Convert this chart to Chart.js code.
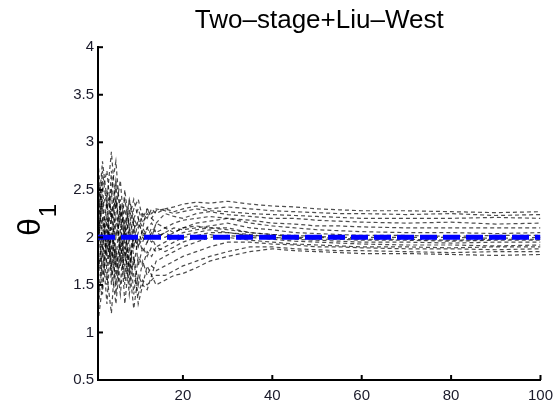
<!DOCTYPE html>
<html>
<head>
<meta charset="utf-8">
<script src="https://cdn.jsdelivr.net/npm/chart.js@4"></script>
<style>
  body { margin: 0; background: #fff; }
  #wrap { width: 560px; height: 406px; }
</style>
</head>
<body>
<div id="wrap"><canvas id="myChart" width="560" height="406"></canvas></div>
<script>
/* Data */
const titleText = 'Two\u2013stage+Liu\u2013West';
const xs = [1, 2, 3, 4, 5, 6, 7, 8, 9, 10, 11, 12, 13, 14, 16, 18, 20, 23, 26, 30, 35, 40, 45, 50, 55, 60, 70, 80, 90, 100];
const trueValue = 2;
const xTicks = [20, 40, 60, 80, 100];
const yTicks = [0.5, 1, 1.5, 2, 2.5, 3, 3.5, 4];

const run1 = [2.6, 2.3, 2.5, 2.2, 2.4, 2.1, 2.3, 2.0, 2.2, 2.1, 2.25, 2.2, 2.3, 2.25, 2.3, 2.32, 2.35, 2.37, 2.36, 2.38, 2.35, 2.33, 2.32, 2.30, 2.29, 2.28, 2.28, 2.27, 2.26, 2.27];
const run2 = [1.9, 2.5, 2.7, 2.2, 2.6, 2.3, 2.1, 2.4, 2.2, 2.3, 2.15, 2.25, 2.2, 2.28, 2.3, 2.27, 2.3, 2.33, 2.3, 2.32, 2.3, 2.28, 2.27, 2.26, 2.25, 2.25, 2.24, 2.25, 2.23, 2.24];
const run3 = [2.2, 2.8, 2.4, 2.9, 2.3, 2.6, 2.0, 2.2, 2.4, 2.2, 2.1, 2.3, 2.2, 2.15, 2.25, 2.22, 2.2, 2.25, 2.27, 2.24, 2.22, 2.2, 2.2, 2.18, 2.17, 2.16, 2.15, 2.16, 2.14, 2.15];
const run4 = [2.7, 2.0, 2.4, 1.7, 2.2, 1.9, 2.5, 2.1, 1.9, 2.2, 2.0, 2.1, 2.15, 2.05, 2.1, 2.15, 2.18, 2.2, 2.22, 2.2, 2.18, 2.15, 2.14, 2.12, 2.12, 2.11, 2.1, 2.1, 2.1, 2.1];
const run5 = [1.5, 2.2, 1.8, 2.5, 1.6, 2.0, 1.8, 2.3, 1.9, 2.05, 1.95, 2.1, 2.0, 2.15, 2.1, 2.05, 2.1, 2.15, 2.17, 2.2, 2.15, 2.12, 2.1, 2.08, 2.07, 2.06, 2.05, 2.05, 2.04, 2.05];
const run6 = [2.3, 1.4, 2.1, 1.8, 2.6, 1.7, 2.2, 1.6, 2.1, 1.9, 2.0, 1.95, 2.05, 2.0, 2.05, 2.1, 2.08, 2.1, 2.12, 2.15, 2.1, 2.08, 2.05, 2.04, 2.03, 2.02, 2.02, 2.01, 2.02, 2.02];
const run7 = [1.2, 1.8, 2.4, 1.5, 2.0, 2.3, 1.5, 1.9, 1.7, 2.0, 1.85, 1.95, 2.0, 1.9, 1.95, 2.0, 2.05, 2.08, 2.1, 2.1, 2.05, 2.03, 2.0, 2.0, 1.99, 1.98, 1.98, 1.97, 1.98, 1.98];
const run8 = [2.5, 1.9, 1.3, 2.1, 1.7, 2.4, 1.9, 1.5, 2.2, 1.7, 1.9, 1.8, 1.9, 1.85, 1.9, 1.95, 2.0, 2.02, 2.05, 2.05, 2.02, 2.0, 1.98, 1.97, 1.96, 1.95, 1.95, 1.94, 1.95, 1.95];
const run9 = [1.8, 2.6, 1.6, 1.2, 1.9, 1.5, 2.1, 1.7, 1.25, 1.6, 1.5, 1.7, 1.6, 1.75, 1.8, 1.85, 1.9, 1.95, 2.0, 2.02, 2.0, 1.98, 1.96, 1.95, 1.94, 1.93, 1.92, 1.92, 1.91, 1.92];
const run10 = [1.1, 1.5, 2.0, 1.7, 1.3, 1.8, 1.6, 2.0, 1.4, 1.8, 1.7, 1.85, 1.8, 1.9, 1.85, 1.9, 1.95, 2.0, 2.03, 2.0, 1.97, 1.95, 1.93, 1.92, 1.91, 1.9, 1.9, 1.89, 1.9, 1.9];
const run11 = [2.0, 2.4, 1.7, 2.2, 1.4, 1.9, 1.7, 2.1, 1.8, 1.5, 1.75, 1.6, 1.7, 1.65, 1.7, 1.75, 1.8, 1.85, 1.9, 1.95, 1.95, 1.93, 1.92, 1.9, 1.9, 1.89, 1.88, 1.88, 1.87, 1.88];
const run12 = [2.4, 1.6, 2.2, 1.9, 1.5, 2.1, 1.3, 1.8, 1.6, 1.4, 1.55, 1.5, 1.55, 1.6, 1.6, 1.65, 1.7, 1.75, 1.8, 1.85, 1.9, 1.9, 1.88, 1.87, 1.86, 1.86, 1.85, 1.84, 1.85, 1.85];
const run13 = [1.6, 2.0, 1.5, 2.3, 1.8, 1.4, 1.9, 1.4, 1.8, 1.3, 1.5, 1.45, 1.6, 1.5, 1.55, 1.6, 1.62, 1.68, 1.75, 1.8, 1.85, 1.88, 1.86, 1.85, 1.84, 1.83, 1.83, 1.82, 1.81, 1.82];
const run14 = [2.8, 2.2, 1.9, 2.7, 2.0, 2.2, 2.0, 2.4, 2.1, 2.15, 2.05, 2.0, 2.1, 2.05, 2.0, 2.05, 2.1, 2.12, 2.1, 2.08, 2.05, 2.03, 2.02, 2.01, 2.0, 2.0, 2.0, 2.0, 1.99, 2.0];
const run15 = [1.3, 1.9, 2.2, 1.6, 2.4, 1.8, 2.0, 1.7, 2.0, 1.9, 2.1, 2.0, 1.95, 2.0, 2.05, 2.0, 2.02, 2.05, 2.08, 2.05, 2.03, 2.0, 1.99, 1.98, 1.98, 1.97, 1.97, 1.96, 1.97, 1.97];
const run16 = [2.1, 2.7, 2.3, 2.5, 2.8, 2.2, 2.4, 2.1, 2.3, 2.4, 2.2, 2.3, 2.25, 2.3, 2.28, 2.25, 2.27, 2.3, 2.28, 2.27, 2.25, 2.24, 2.23, 2.22, 2.21, 2.2, 2.2, 2.2, 2.21, 2.2];

const runs = [run1, run2, run3, run4, run5, run6, run7, run8, run9, run10, run11, run12, run13, run14, run15, run16];

/* Inward ticks + theta label */
const matlabAxes = {
  id: 'matlabAxes',
  afterDraw(chart) {
    const { ctx, chartArea, scales } = chart;
    ctx.save();
    ctx.strokeStyle = '#000';
    ctx.lineWidth = 2;
    yTicks.forEach(v => {
      const py = scales.y.getPixelForValue(v);
      ctx.beginPath();
      ctx.moveTo(chartArea.left, py);
      ctx.lineTo(chartArea.left + 5, py);
      ctx.stroke();
    });
    xTicks.forEach(v => {
      const px = scales.x.getPixelForValue(v);
      ctx.beginPath();
      ctx.moveTo(px, chartArea.bottom);
      ctx.lineTo(px, chartArea.bottom - 5);
      ctx.stroke();
    });
    // y label: theta with subscript 1, rotated
    ctx.translate(40, 236);
    ctx.rotate(-Math.PI / 2);
    ctx.fillStyle = '#000';
    ctx.textBaseline = 'alphabetic';
    ctx.textAlign = 'left';
    ctx.font = '32px "Liberation Sans", Arial, sans-serif';
    ctx.fillText('\u03b8', 0, 0);
    const w = ctx.measureText('\u03b8').width;
    ctx.font = '24px "Liberation Sans", Arial, sans-serif';
    ctx.fillText('1', w + 1, 16);
    ctx.restore();
  }
};

function initChart() {
  const ctx = document.getElementById('myChart').getContext('2d');

  const datasets = [{
    label: 'true',
    data: [{ x: 1, y: trueValue }, { x: 100, y: trueValue }],
    borderColor: '#0000ff',
    borderWidth: 5,
    borderDash: [17, 6],
    pointRadius: 0,
  }];
  runs.forEach((run, i) => {
    datasets.push({
      label: 'run ' + (i + 1),
      data: run.map((v, k) => ({ x: xs[k], y: v })),
      borderColor: 'rgba(0,0,0,0.7)',
      borderWidth: 1.2,
      borderDash: [4, 3],
      pointRadius: 0,
      tension: 0,
    });
  });

  const tickFont = { family: '"Liberation Sans", Arial, sans-serif', size: 15 };

  // eslint-disable-next-line no-unused-vars
  const myChart = new Chart(ctx, {
    type: 'line',
    data: { datasets },
    options: {
      responsive: false,
      animation: false,
      layout: { padding: { left: 0, right: 14, top: 0, bottom: 0 } },
      plugins: {
        legend: { display: false },
        tooltip: { enabled: false },
        title: {
          display: true,
          text: titleText,
          fullSize: false,
          color: '#000',
          font: { family: '"Liberation Sans", Arial, sans-serif', size: 26, weight: 'normal' },
          padding: { top: 5, bottom: 11 },
        },
      },
      scales: {
        x: {
          type: 'linear',
          min: 1,
          max: 100,
          afterBuildTicks: s => { s.ticks = xTicks.map(v => ({ value: v })); },
          afterFit: s => { s.height = 26; },
          grid: { display: true, drawOnChartArea: false, drawTicks: false },
          border: { color: '#000', width: 2 },
          ticks: { color: '#1a1a2a', font: tickFont, padding: 7, maxRotation: 0 },
        },
        y: {
          min: 0.5,
          max: 4,
          afterBuildTicks: s => { s.ticks = yTicks.map(v => ({ value: v })); },
          afterFit: s => { s.width = 98; },
          grid: { display: true, drawOnChartArea: false, drawTicks: false },
          border: { color: '#000', width: 2 },
          ticks: { color: '#1a1a2a', font: tickFont, padding: 4, callback: v => String(v) },
        },
      },
    },
    plugins: [matlabAxes],
  });
}

const app = () => {
  initChart();
};

app();
</script>
</body>
</html>
